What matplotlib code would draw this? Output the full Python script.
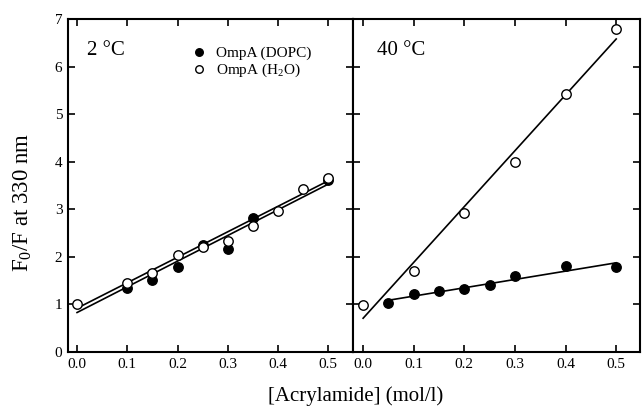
import numpy as np
import matplotlib
matplotlib.use('Agg')
import matplotlib.pyplot as plt

plt.rcParams['font.family'] = ['Liberation Serif', 'DejaVu Serif']
plt.rcParams['mathtext.fontset'] = 'custom'
plt.rcParams['mathtext.rm'] = 'Liberation Serif'
plt.rcParams['mathtext.it'] = 'Liberation Serif:italic'

# ... 2 degC data ...
x2_dopc = [0.10, 0.15, 0.20, 0.25, 0.30, 0.35, 0.50]
y2_dopc = [1.34, 1.52, 1.79, 2.24, 2.16, 2.82, 3.62]
x2_h2o = [0.00, 0.10, 0.15, 0.20, 0.25, 0.30, 0.35, 0.40, 0.45, 0.50]
y2_h2o = [1.00, 1.45, 1.66, 2.03, 2.21, 2.33, 2.65, 2.96, 3.43, 3.65]

# ... 40 degC data ...
x40_dopc = [0.05, 0.10, 0.15, 0.20, 0.25, 0.30, 0.40, 0.50]
y40_dopc = [1.04, 1.21, 1.29, 1.33, 1.40, 1.60, 1.80, 1.79]
x40_h2o = [0.00, 0.10, 0.20, 0.30, 0.40, 0.50]
y40_h2o = [0.99, 1.71, 2.92, 4.00, 5.42, 6.78]

# ... linear fits (x range, intercept, slope) ...
fit2_dopc = ((0.0, 0.5), 0.83, 5.40)
fit2_h2o = ((0.0, 0.5), 0.92, 5.36)
fit40_dopc = ((0.05, 0.5), 1.00, 1.75)
fit40_h2o = ((0.0, 0.5), 0.71, 11.74)

xticks = [0.0, 0.1, 0.2, 0.3, 0.4, 0.5]
yticks = [0, 1, 2, 3, 4, 5, 6, 7]


def drawFit(ax, fit):
    (x0, x1), a, b = fit
    xs = np.array([x0, x1])
    ax.plot(xs, a + b*xs, 'k-', lw=1.2, zorder=2)


def decorate(ax, showY):
    ax.set_xlim(-0.018, 0.549)
    ax.set_ylim(0, 7)
    ax.set_xticks(xticks)
    ax.set_xticklabels(['{:.1f}'.format(t) for t in xticks])
    ax.set_yticks(yticks)
    ax.tick_params(direction='in', top=True, right=True, length=5,
                   width=1.2, labelsize=11, pad=4)
    if not showY:
        ax.tick_params(labelleft=False)
    for s in ax.spines.values():
        s.set_linewidth(1.5)


fig = plt.figure(figsize=(6.42, 4.09), dpi=100)
axL = fig.add_axes([68/642, 57/409, 285/642, 333/409])
axR = fig.add_axes([353/642, 57/409, 287/642, 333/409])

mk = dict(ms=6.8, mec='k', mew=1.0, ls='none', zorder=3)

# ... left panel, 2 degC ...
drawFit(axL, fit2_dopc)
drawFit(axL, fit2_h2o)
axL.plot(x2_dopc, y2_dopc, 'o', mfc='k', label='OmpA (DOPC)', **mk)
axL.plot(x2_h2o, y2_h2o, 'o', mfc='white', label=r'OmpA (H$_\mathregular{2}$O)', **mk)
decorate(axL, True)
axL.text(0.067, 0.904, '2 °C', transform=axL.transAxes, fontsize=15,
         va='center', ha='left')
axL.legend(loc='upper left', bbox_to_anchor=(0.395, 0.95), frameon=False,
           fontsize=11, handlelength=1.0, handletextpad=0.6,
           labelspacing=0.12, borderpad=0.2, markerscale=0.8)

# ... right panel, 40 degC ...
drawFit(axR, fit40_dopc)
drawFit(axR, fit40_h2o)
axR.plot(x40_dopc, y40_dopc, 'o', mfc='k', **mk)
axR.plot(x40_h2o, y40_h2o, 'o', mfc='white', **mk)
decorate(axR, False)
axR.set_xlim(-0.02, 0.547)
axR.text(0.084, 0.904, '40 °C', transform=axR.transAxes, fontsize=15,
         va='center', ha='left')

# ... shared axis labels ...
fig.text(23/642, 1 - 202/409, r'F$_\mathregular{0}$/F at 330 nm',
         rotation=90, ha='center', va='center', fontsize=16.5)
fig.text(356/642, 8/409, '[Acrylamide] (mol/l)', ha='center',
         va='baseline', fontsize=15)

fig.savefig('out.png', dpi=100)
